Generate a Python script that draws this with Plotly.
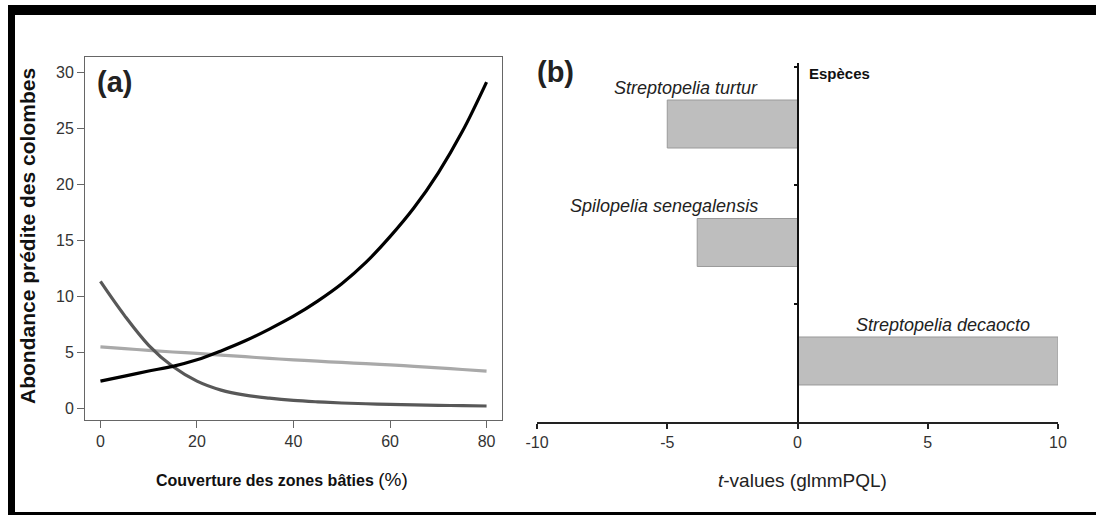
import plotly.graph_objects as go

W, H = 1097, 516

# ---- Panel (a): predicted pigeon/dove abundance vs built-up cover ----
cover = [0, 5, 10, 15, 20, 25, 30, 35, 40, 45, 50, 55, 60, 65, 70, 75, 80]
abund_decaocto = [2.4, 2.85, 3.3, 3.72, 4.3, 5.1, 6.0, 7.05, 8.2, 9.55, 11.1, 13.0, 15.3, 17.9, 21.0, 24.7, 29.1]
abund_turtur = [11.3, 8.25, 5.6, 3.7, 2.4, 1.6, 1.15, 0.88, 0.68, 0.55, 0.45, 0.38, 0.32, 0.28, 0.24, 0.21, 0.18]
abund_senegalensis = [5.45, 5.3, 5.15, 5.0, 4.88, 4.73, 4.58, 4.43, 4.3, 4.18, 4.07, 3.96, 3.85, 3.72, 3.58, 3.44, 3.3]

x_ticks_a = [0, 20, 40, 60, 80]
y_ticks_a = [0, 5, 10, 15, 20, 25, 30]

# ---- Panel (b): t-values from glmmPQL per species ----
species = ["Streptopelia turtur", "Spilopelia senegalensis", "Streptopelia decaocto"]
t_values = [-5.0, -3.85, 10.0]
x_ticks_b = [-10, -5, 0, 5, 10]


def px_x(p):
    return p / W


def px_y(p):
    return 1 - p / H


fig = go.Figure()

line_styles = [
    (abund_senegalensis, "#a9a9a9"),
    (abund_turtur, "#585858"),
    (abund_decaocto, "#000000"),
]
for vals, col in line_styles:
    fig.add_trace(go.Scatter(
        x=cover, y=vals, mode="lines",
        line=dict(color=col, width=3.2, shape="spline", smoothing=1.0),
        xaxis="x", yaxis="y", showlegend=False, hoverinfo="skip",
    ))

# bars: one slot per species, bar sits in the lower part of the slot
n = len(species)
bar_pos = [n - i - 0.485 for i in range(n)]
fig.add_trace(go.Bar(
    x=t_values, y=bar_pos, base=0, orientation="h", width=0.405,
    marker=dict(color="#bebebe", line=dict(color="#9a9a9a", width=1)),
    xaxis="x2", yaxis="y2", showlegend=False, hoverinfo="skip",
))

annotations = []
for name, v, yp in zip(species, t_values, bar_pos):
    if v < 0:
        ax, anc = -1.45, "right"
    else:
        ax, anc = v - 1.0, "right"
    annotations.append(dict(
        x=ax, y=yp + 0.305, xref="x2", yref="y2", xanchor=anc, yanchor="middle",
        text=f"<i>{name}</i>", showarrow=False,
        font=dict(family="Liberation Sans, Arial", size=18, color="#222"),
    ))

annotations += [
    dict(x=px_x(114), y=px_y(82), xref="paper", yref="paper", text="<b>(a)</b>",
         showarrow=False, xanchor="center", yanchor="middle",
         font=dict(family="Liberation Sans, Arial", size=29, color="#222")),
    dict(x=px_x(556), y=px_y(72), xref="paper", yref="paper", text="<b>(b)</b>",
         showarrow=False, xanchor="center", yanchor="middle",
         font=dict(family="Liberation Sans, Arial", size=29, color="#222")),
    dict(x=px_x(28), y=px_y(236), xref="paper", yref="paper",
         text="<b>Abondance prédite des colombes</b>", textangle=-90,
         showarrow=False, xanchor="center", yanchor="middle",
         font=dict(family="Liberation Sans, Arial", size=21, color="#111")),
    dict(x=px_x(282), y=px_y(479), xref="paper", yref="paper",
         text="<b>Couverture des zones bâties</b> <span style='font-size:19px'>(%)</span>",
         showarrow=False, xanchor="center", yanchor="middle",
         font=dict(family="Liberation Sans, Arial", size=16, color="#111")),
    dict(x=px_x(802), y=px_y(480), xref="paper", yref="paper",
         text="<i>t</i>-values (glmmPQL)",
         showarrow=False, xanchor="center", yanchor="middle",
         font=dict(family="Liberation Sans, Arial", size=19, color="#222")),
    dict(x=px_x(807), y=px_y(73), xref="paper", yref="paper",
         text="<b>Espèces</b>",
         showarrow=False, xanchor="left", yanchor="middle",
         font=dict(family="Liberation Sans, Arial", size=15, color="#111")),
]

# black frame around the figure (top, left, bottom)
frame = "#000000"
shapes = [
    dict(type="rect", xref="paper", yref="paper", x0=px_x(8), x1=px_x(1096), y0=px_y(15), y1=px_y(5),
         fillcolor=frame, line=dict(width=0), layer="above"),
    dict(type="rect", xref="paper", yref="paper", x0=px_x(8), x1=px_x(15), y0=px_y(515), y1=px_y(5),
         fillcolor=frame, line=dict(width=0), layer="above"),
    dict(type="rect", xref="paper", yref="paper", x0=px_x(8), x1=px_x(1096), y0=px_y(515), y1=px_y(512),
         fillcolor=frame, line=dict(width=0), layer="above"),
]

tick_font = dict(family="Liberation Sans, Arial", size=16, color="#333")
box_col = "#666666"
x0_pos = (537 + 0.5 * (1058 - 537)) / W

fig.update_layout(
    template="none",
    width=W, height=H,
    autosize=False,
    margin=dict(l=0, r=0, t=0, b=0, pad=0, autoexpand=False),
    paper_bgcolor="white", plot_bgcolor="white",
    font=dict(family="Liberation Sans, Arial"),
    xaxis=dict(domain=[px_x(85), px_x(502)], range=[-3.2, 83.2], anchor="y", automargin=False,
               tickvals=x_ticks_a, ticks="outside", ticklen=7, tickcolor=box_col, tickwidth=1,
               showline=True, mirror=True, linecolor=box_col, linewidth=1,
               showgrid=False, zeroline=False, tickfont=tick_font),
    yaxis=dict(domain=[px_y(420), px_y(57)], range=[-1.07, 31.34], anchor="x", automargin=False,
               tickvals=y_ticks_a, ticks="outside", ticklen=7, tickcolor=box_col, tickwidth=1,
               showline=True, mirror=True, linecolor=box_col, linewidth=1,
               showgrid=False, zeroline=False, tickfont=tick_font),
    xaxis2=dict(domain=[px_x(537), px_x(1058)], range=[-10, 10], anchor="y2", automargin=False,
                tickvals=x_ticks_b, ticktext=[str(v) for v in x_ticks_b],
                ticks="outside", ticklen=5, tickcolor="#222", tickwidth=2,
                showline=True, linecolor="#222", linewidth=2,
                showgrid=False, zeroline=False, tickfont=tick_font),
    yaxis2=dict(domain=[px_y(422), px_y(63)], range=[0, 3.03], anchor="free", position=x0_pos,
                automargin=False,
                tickvals=[1, 2, 3], ticks="outside", ticklen=3, tickcolor="#111", tickwidth=1.5,
                showticklabels=False, showline=True, linecolor="#111", linewidth=2,
                showgrid=False, zeroline=False),
    annotations=annotations,
    shapes=shapes,
)

fig.write_html("out.html")
